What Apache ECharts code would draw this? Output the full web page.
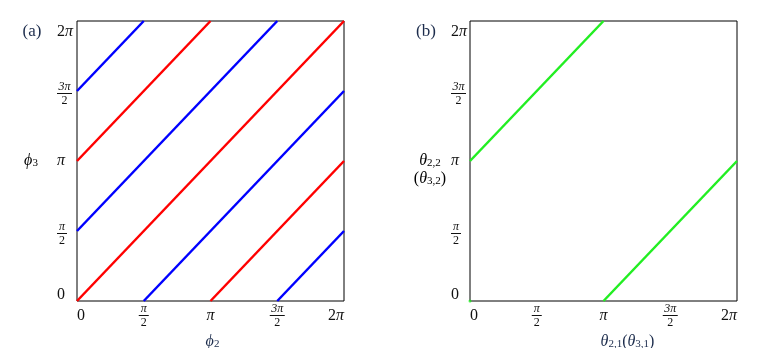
<!DOCTYPE html>
<html>
<head>
<meta charset="utf-8">
<script src="https://cdn.jsdelivr.net/npm/echarts@6/dist/echarts.min.js"></script>
<style>
html, body { margin: 0; padding: 0; background: #fff; }
#chart { width: 775px; height: 348px; }
</style>
</head>
<body>
<div id="chart"></div>
<script>
// axis ticks, in units of pi
const ticks = [0, 0.5, 1, 1.5, 2];
const tickLabels = ['0', 'π/2', 'π', '3π/2', '2π'];

// line pieces, endpoints [x, y] in units of pi
const blueLines = [
    [[0, 1.5], [0.5, 2]],
    [[0, 0.5], [1.5, 2]],
    [[0.5, 0], [2, 1.5]],
    [[1.5, 0], [2, 0.5]]
];
const redLines = [
    [[0, 1], [1, 2]],
    [[0, 0], [2, 2]],
    [[1, 0], [2, 1]]
];
const greenLines = [
    [[0, 1], [1, 2]],
    [[1, 0], [2, 1]]
];
const greenDots = [[0, 0]];

const serif = "'Liberation Serif', 'DejaVu Serif', serif";
const ink = '#111';
const titleInk = '#1c2c4c';

const rich = {
    t: { fontFamily: serif, fontSize: 16, color: ink, lineHeight: 18 },
    ti: { fontFamily: serif, fontSize: 16, fontStyle: 'italic', color: ink, lineHeight: 18 },
    // top label on the y axis, pushed down a bit
    tt: { fontFamily: serif, fontSize: 16, color: ink, lineHeight: 18, padding: [4, 0, 0, 0] },
    tti: { fontFamily: serif, fontSize: 16, fontStyle: 'italic', color: ink, lineHeight: 18, padding: [4, 0, 0, 0] },
    // bottom label on the y axis
    tb: { fontFamily: serif, fontSize: 16, color: ink, lineHeight: 12 },
    sp: { width: 1, height: 6, lineHeight: 6 },
    n: { fontFamily: serif, fontSize: 12, fontStyle: 'italic', color: ink, lineHeight: 10, align: 'center' },
    bar1: { width: 10, height: 1, lineHeight: 3, backgroundColor: ink, align: 'center' },
    bar2: { width: 15, height: 1, lineHeight: 3, backgroundColor: ink, align: 'center' },
    d: { fontFamily: serif, fontSize: 12, color: ink, lineHeight: 11, align: 'center' }
};

// title text pieces
const trich = {
    g: { fontFamily: serif, fontSize: 16, fontStyle: 'italic', color: titleInk, lineHeight: 18, verticalAlign: 'bottom' },
    r: { fontFamily: serif, fontSize: 16, color: titleInk, lineHeight: 18, verticalAlign: 'bottom' },
    s: { fontFamily: serif, fontSize: 11, color: titleInk, lineHeight: 12, verticalAlign: 'bottom' }
};

function fmtTick(value, forY) {
    let i = ticks.indexOf(value);
    if (i < 0) return '';
    let lab = tickLabels[i];
    if (lab.indexOf('/') >= 0) {
        let p = lab.split('/');
        let bar = p[0].length > 1 ? 'bar2' : 'bar1';
        // on the y axis the fractions sit a little below the tick
        return (forY ? '{sp|}\n' : '') + '{n|' + p[0] + '}\n{' + bar + '|}\n{d|' + p[1] + '}';
    }
    let up = '', it = 'ti';
    if (forY && i === ticks.length - 1) { up = 'tt'; it = 'tti'; }
    else if (forY && i === 0) { up = 'tb'; }
    else up = 't';
    let out = '';
    for (let ch of lab) {
        out += ch === 'π' ? '{' + it + '|π}' : '{' + up + '|' + ch + '}';
    }
    return out;
}

function segSeries(lines, color, idx) {
    return lines.map(seg => ({
        type: 'line',
        xAxisIndex: idx,
        yAxisIndex: idx,
        data: seg,
        symbol: 'none',
        silent: true,
        lineStyle: { color: color, width: 2.5 }
    }));
}

function xAx(idx, name, namePad) {
    return {
        type: 'value', gridIndex: idx, min: 0, max: 2, interval: 0.5,
        axisLine: { show: false }, axisTick: { show: false }, splitLine: { show: false },
        axisLabel: {
            formatter: v => fmtTick(v, false), rich: rich, margin: 15, verticalAlign: 'middle',
            alignMinLabel: 'left', alignMaxLabel: 'right'
        },
        name: name, nameLocation: 'middle', nameGap: 13,
        nameTextStyle: { rich: trich, padding: namePad }
    };
}

function yAx(idx, margin) {
    return {
        type: 'value', gridIndex: idx, min: 0, max: 2, interval: 0.5,
        axisLine: { show: false }, axisTick: { show: false }, splitLine: { show: false },
        axisLabel: {
            formatter: v => fmtTick(v, true), rich: rich, margin: margin, align: 'left',
            verticalAlignMinLabel: 'bottom', verticalAlignMaxLabel: 'top'
        }
    };
}

let chart = echarts.init(document.getElementById('chart'));
chart.setOption({
    animation: false,
    backgroundColor: '#fff',
    grid: [
        { left: 77, top: 21, width: 267, height: 280, show: true, borderColor: '#000', borderWidth: 1, outerBoundsMode: 'none', containLabel: false },
        { left: 470, top: 21, width: 267, height: 280, show: true, borderColor: '#000', borderWidth: 1, outerBoundsMode: 'none', containLabel: false }
    ],
    xAxis: [
        xAx(0, '{g|ϕ}{s|2}', [0, 0, 0, 4]),
        xAx(1, '{g|θ}{s|2,1}{r|(}{g|θ}{s|3,1}{r|)}', [0, 0, 0, 48])
    ],
    yAxis: [yAx(0, 20), yAx(1, 19)],
    graphic: [
        { type: 'text', x: 32, y: 32, style: { text: '(a)', font: '17px ' + serif, fill: titleInk, textAlign: 'center', textVerticalAlign: 'middle' } },
        { type: 'text', x: 426, y: 32, style: { text: '(b)', font: '17px ' + serif, fill: titleInk, textAlign: 'center', textVerticalAlign: 'middle' } },
        { type: 'text', x: 31, y: 160, style: { text: '{g|ϕ}{s|3}', rich: trich, textAlign: 'center', textVerticalAlign: 'middle' } },
        { type: 'text', x: 430, y: 169, style: { text: '{g|θ}{s|2,2}\n{r|(}{g|θ}{s|3,2}{r|)}', rich: trich, textAlign: 'center', textVerticalAlign: 'middle' } }
    ],
    series: [].concat(
        segSeries(blueLines, '#0000ff', 0),
        segSeries(redLines, '#ff0000', 0),
        segSeries(greenLines, '#22ee22', 1),
        [{
            type: 'scatter', xAxisIndex: 1, yAxisIndex: 1, data: greenDots,
            symbolSize: 3, silent: true, itemStyle: { color: '#22ee22' }
        }]
    )
});
</script>
</body>
</html>
